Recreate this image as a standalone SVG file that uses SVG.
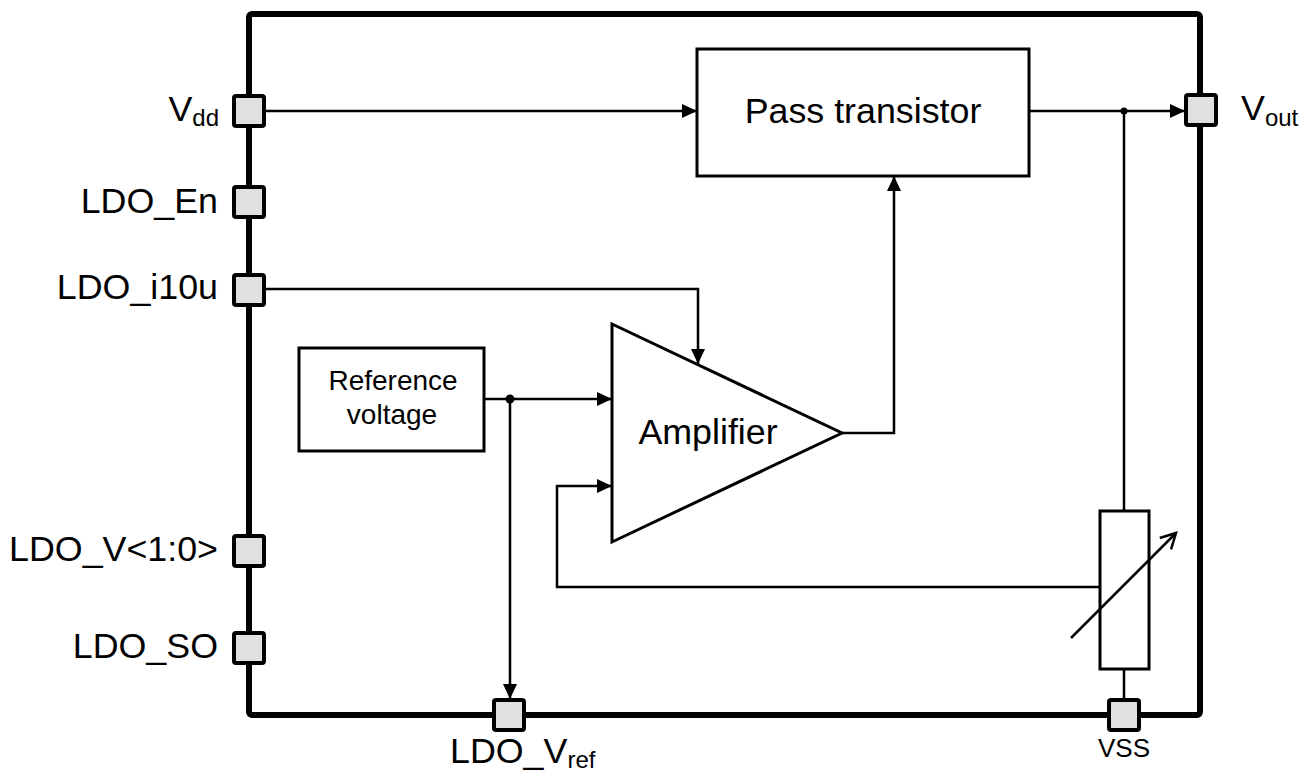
<svg xmlns="http://www.w3.org/2000/svg" width="1316" height="771" viewBox="0 0 1316 771">
<style>
text{font-family:"Liberation Sans",Arial,sans-serif;fill:#000}
.lbl{font-size:35.8px}
.sub{font-size:24px}
.box{fill:#fff;stroke:#000;stroke-width:3}
.pin{fill:#e0e0e0;stroke:#000;stroke-width:4}
.wire{fill:none;stroke:#000;stroke-width:2.5}
</style>
<defs>
<marker id="arr" markerUnits="userSpaceOnUse" markerWidth="16" markerHeight="14" refX="15" refY="7" orient="auto">
<path d="M0,0 L15,7 L0,14 z" fill="#000"/>
</marker>
<marker id="open" markerUnits="userSpaceOnUse" markerWidth="20" markerHeight="20" refX="17" refY="10" orient="auto">
<path d="M2,2 L17,10 L2,18" fill="none" stroke="#000" stroke-width="2.5"/>
</marker>
</defs>
<rect width="1316" height="771" fill="#fff"/>
<g id="chip">
<rect x="249" y="14" width="951" height="701" rx="3" fill="none" stroke="#000" stroke-width="6"/>
</g>
<g id="connectors">
<path class="wire" d="M265,111 H697" marker-end="url(#arr)"/>
<path class="wire" d="M1029,111 H1185" marker-end="url(#arr)"/>
<path class="wire" d="M265,289 H698 V364" marker-end="url(#arr)"/>
<path class="wire" d="M484,399 H612" marker-end="url(#arr)"/>
<path class="wire" d="M510,399 V699" marker-end="url(#arr)"/>
<path class="wire" d="M842,433 H894 V176" marker-end="url(#arr)"/>
<path class="wire" d="M1100,587 H557 V486 H612" marker-end="url(#arr)"/>
<path class="wire" d="M1124,111 V511"/>
<path class="wire" d="M1124,669 V699"/>
<circle cx="510" cy="399" r="4.5"/>
<circle cx="1124" cy="111" r="3.5"/>
</g>
<g id="pass_transistor">
<rect class="box" x="697" y="49" width="332" height="127"/>
<text class="lbl" x="863" y="123" text-anchor="middle">Pass transistor</text>
</g>
<g id="reference_voltage">
<rect class="box" x="299" y="348" width="185" height="103"/>
<text x="393" y="390" font-size="28" text-anchor="middle">Reference</text>
<text x="392" y="424" font-size="28" text-anchor="middle">voltage</text>
</g>
<g id="amplifier">
<path class="box" d="M612,324 L842,433 L612,542 Z"/>
<text class="lbl" x="708" y="444" text-anchor="middle">Amplifier</text>
</g>
<g id="resistor">
<rect class="box" x="1100" y="511" width="49" height="158"/>
<path class="wire" d="M1071,638 L1176,533" marker-end="url(#open)"/>
</g>
<g id="pin_vdd">
<rect class="pin" x="234" y="96" width="30" height="30" rx="2"/>
<text class="lbl" x="219" y="121" text-anchor="end">V<tspan class="sub" dy="5">dd</tspan></text>
</g>
<g id="pin_ldo_en">
<rect class="pin" x="234" y="187" width="30" height="30" rx="2"/>
<text class="lbl" x="218" y="213" text-anchor="end">LDO_En</text>
</g>
<g id="pin_ldo_i10u">
<rect class="pin" x="234" y="275" width="30" height="30" rx="2"/>
<text class="lbl" x="218" y="299" text-anchor="end">LDO_i10u</text>
</g>
<g id="pin_ldo_v">
<rect class="pin" x="234" y="536" width="30" height="30" rx="2"/>
<text class="lbl" x="218" y="561" text-anchor="end">LDO_V&lt;1:0&gt;</text>
</g>
<g id="pin_ldo_so">
<rect class="pin" x="234" y="633" width="30" height="30" rx="2"/>
<text class="lbl" x="218" y="658" text-anchor="end">LDO_SO</text>
</g>
<g id="pin_vout">
<rect class="pin" x="1186" y="95" width="30" height="30" rx="2"/>
<text class="lbl" x="1241" y="120">V<tspan class="sub" dy="6">out</tspan></text>
</g>
<g id="pin_ldo_vref">
<rect class="pin" x="494" y="700" width="30" height="30" rx="2"/>
<text class="lbl" x="450" y="763">LDO_V<tspan class="sub" dy="5">ref</tspan></text>
</g>
<g id="pin_vss">
<rect class="pin" x="1109" y="700" width="30" height="30" rx="2"/>
<text x="1124" y="757" font-size="26" text-anchor="middle">VSS</text>
</g>
</svg>
